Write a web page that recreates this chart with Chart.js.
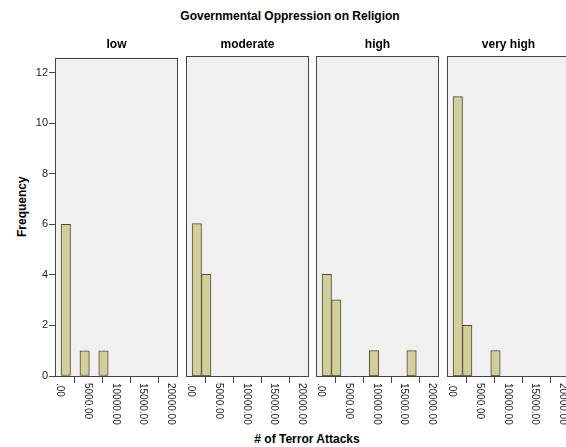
<!DOCTYPE html>
<html>
<head>
<meta charset="utf-8">
<script src="https://cdn.jsdelivr.net/npm/chart.js@4/dist/chart.umd.min.js"></script>
<style>
  body { margin: 0; width: 566px; height: 447px; overflow: hidden; background: #fff; position: relative;
         font-family: "Liberation Sans", Arial, sans-serif; }
  canvas { position: absolute; }
  .lbl { position: absolute; font-weight: bold; font-size: 12px; color: #000; white-space: nowrap; }
</style>
</head>
<body>
<div class="lbl" id="title" style="left:0;width:580px;top:9px;text-align:center;">Governmental Oppression on Religion</div>
<div class="lbl" style="left:0;top:208px;width:44px;text-align:center;transform:rotate(-90deg);">Frequency</div>
<div class="lbl" style="left:207px;width:200px;top:432px;text-align:center;"># of Terror Attacks</div>

<script>
// histogram bins of 1700 attacks each, bin centres along the x axis
var binWidth = 1700;
var binCenters = [850, 2550, 4250, 5950, 7650, 9350, 11050, 12750, 14450, 16150];

// counts per bin for each level of oppression
var panelNames = ['low', 'moderate', 'high', 'very high'];
var lowCounts      = [6, 0, 1, 0, 1, 0, 0, 0, 0, 0];
var moderateCounts = [6, 4, 0, 0, 0, 0, 0, 0, 0, 0];
var highCounts     = [4, 3, 0, 0, 0, 1, 0, 0, 0, 1];
var veryHighCounts = [11, 2, 0, 0, 1, 0, 0, 0, 0, 0];
var allCounts = [lowCounts, moderateCounts, highCounts, veryHighCounts];

var xTicks = [0, 5000, 10000, 15000, 20000];
var yTicks = [0, 2, 4, 6, 8, 10, 12];

var panelLeft = [55, 186, 316, 447];
var panelWidth = 123;
var yAxisWidth = 25;

// panel background + frame, plus rotated x tick labels
var panelPlugin = {
    id: 'panel',
    beforeDraw: function(chart) {
        var a = chart.chartArea, ctx = chart.ctx;
        ctx.save();
        ctx.fillStyle = '#f0f0f0';
        ctx.fillRect(a.left, a.top, a.right - a.left, a.bottom - a.top);
        ctx.restore();
    },
    afterDraw: function(chart) {
        var a = chart.chartArea, ctx = chart.ctx;
        ctx.save();
        ctx.strokeStyle = '#444';
        ctx.lineWidth = 1;
        ctx.strokeRect(Math.round(a.left) + 0.5, Math.round(a.top) + 0.5,
            Math.round(a.right - a.left) - 1, Math.round(a.bottom - a.top));
        var xs = chart.scales.x;
        ctx.fillStyle = '#222';
        ctx.font = '10px "Liberation Sans", Arial, sans-serif';
        ctx.textBaseline = 'middle';
        ctx.textAlign = 'left';
        xTicks.forEach(function(v) {
            var px = xs.getPixelForValue(v);
            ctx.save();
            ctx.translate(px - 1, a.bottom + 7);
            ctx.rotate(Math.PI / 2);
            ctx.fillText(v === 0 ? '.00' : v.toFixed(2), 0, 0);
            ctx.restore();
        });
        ctx.restore();
    }
};

allCounts.forEach(function(counts, i) {
    var first = i === 0;
    var cv = document.createElement('canvas');
    var w = panelWidth + (first ? yAxisWidth : 0);
    cv.width = w;
    cv.height = 397;
    cv.style.left = (panelLeft[i] - (first ? yAxisWidth : 0)) + 'px';
    cv.style.top = '50px';
    document.body.appendChild(cv);

    var lab = document.createElement('div');
    lab.className = 'lbl';
    lab.textContent = panelNames[i];
    lab.style.left = panelLeft[i] + 'px';
    lab.style.width = panelWidth + 'px';
    lab.style.textAlign = 'center';
    lab.style.top = '37px';
    document.body.appendChild(lab);

    new Chart(cv, {
        type: 'bar',
        data: {
            datasets: [{
                // empty bins are left out (null) so no stub is drawn on the baseline
                data: binCenters.map(function(c, k) { return {x: c, y: counts[k] || null}; }),
                backgroundColor: '#d3cf9a',
                borderColor: '#4d4a3a',
                borderWidth: 1,
                borderSkipped: false,
                barPercentage: 1,
                categoryPercentage: 1
            }]
        },
        options: {
            responsive: false,
            animation: false,
            layout: { padding: { top: 6, left: 0, right: 0, bottom: 0 } },
            plugins: { legend: { display: false }, tooltip: { enabled: false } },
            scales: {
                x: {
                    type: 'linear',
                    min: -1100,
                    max: 21100,
                    offset: false,
                    afterBuildTicks: function(s) { s.ticks = xTicks.map(function(v) { return {value: v}; }); },
                    afterFit: function(s) { s.height = 71; },
                    border: { display: false },
                    grid: { drawOnChartArea: false, tickLength: 7, color: '#444' },
                    ticks: { display: false }
                },
                y: {
                    min: 0,
                    max: 12.6,
                    display: first,
                    afterBuildTicks: function(s) { s.ticks = yTicks.map(function(v) { return {value: v}; }); },
                    afterFit: function(s) { s.width = first ? yAxisWidth : 0; },
                    border: { display: false },
                    grid: { drawOnChartArea: false, tickLength: 6, color: '#444' },
                    ticks: {
                        padding: 1,
                        color: '#222',
                        font: { family: '"Liberation Sans", Arial, sans-serif', size: 11 }
                    }
                }
            }
        },
        plugins: [panelPlugin]
    });
});
</script>
</body>
</html>
